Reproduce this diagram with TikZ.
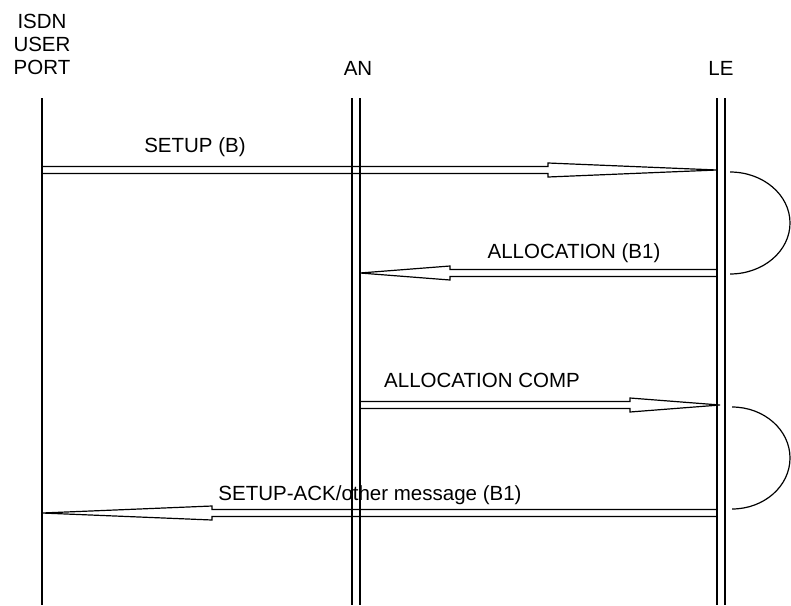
\documentclass[tikz,border=0pt]{standalone}
\usepackage{fontspec}
\setmainfont{Liberation Sans}
\usepackage{tikz}
\usetikzlibrary{calc}
\tikzset{lifeline/.style={line width=0.6pt},
  msg/.style={line width=0.6pt,line join=miter},
  loopback/.style={line width=0.6pt},
  header/.style={inner sep=0pt,align=center},
  label/.style={inner sep=0pt,anchor=base}}
% tail, head base, tip
\newcommand\msgarrow[3]{%
  \draw[msg] ($(#1)+(0,-3.5)$) -- ($(#2)+(0,-3.5)$) -- ($(#2)+(0,-7)$) -- (#3)
    -- ($(#2)+(0,7)$) -- ($(#2)+(0,3.5)$) -- ($(#1)+(0,3.5)$) -- cycle;}

\begin{document}
\begin{tikzpicture}[x=0.5pt,y=-0.5pt,font=\fontsize{10.25}{11.5}\selectfont]
    \useasboundingbox (0,0) rectangle (791,605);
    % headers
    \node[header,anchor=south] (port) at (42,75) {ISDN\\USER\\PORT};
    \node[label] (an) at (358,75) {AN};
    \node[label] (le) at (721,75) {LE};
    % lifelines
    \coordinate (porttop) at (42,98);   \coordinate (portbot) at (42,605);
    \coordinate (anltop) at (352,98);   \coordinate (anlbot) at (352,605);
    \coordinate (anrtop) at (360,98);   \coordinate (anrbot) at (360,605);
    \coordinate (leltop) at (717,98);   \coordinate (lelbot) at (717,605);
    \coordinate (lertop) at (725,98);   \coordinate (lerbot) at (725,605);
    \draw[lifeline] (porttop) -- (portbot);
    \draw[lifeline] (anltop) -- (anlbot);
    \draw[lifeline] (anrtop) -- (anrbot);
    \draw[lifeline] (leltop) -- (lelbot);
    \draw[lifeline] (lertop) -- (lerbot);
    % messages
    \coordinate (setupA) at (42,170);  \coordinate (setupB) at (548,170);  \coordinate (setupC) at (717,170);
    \coordinate (allocA) at (717,273); \coordinate (allocB) at (450,273);  \coordinate (allocC) at (360,273);
    \coordinate (compA) at (360,405);  \coordinate (compB) at (630,405);   \coordinate (compC) at (720,405);
    \coordinate (ackA) at (717,513);   \coordinate (ackB) at (212,513);    \coordinate (ackC) at (42,513);
    \msgarrow{setupA}{setupB}{setupC}
    \msgarrow{allocA}{allocB}{allocC}
    \msgarrow{compA}{compB}{compC}
    \msgarrow{ackA}{ackB}{ackC}
    \node[label] (setup) at (195,152) {SETUP (B)};
    \node[label] (alloc) at (574,258) {ALLOCATION (B1)};
    \node[label] (comp) at (482,387) {ALLOCATION COMP};
    \node[label] (ack) at (370,500) {SETUP-ACK/other message (B1)};
    % loops at LE
    \draw[loopback] (730,172) arc[start angle=-90,end angle=90,x radius=60,y radius=51];
    \draw[loopback] (732,407) arc[start angle=-90,end angle=90,x radius=58,y radius=51];
\end{tikzpicture}
\end{document}
